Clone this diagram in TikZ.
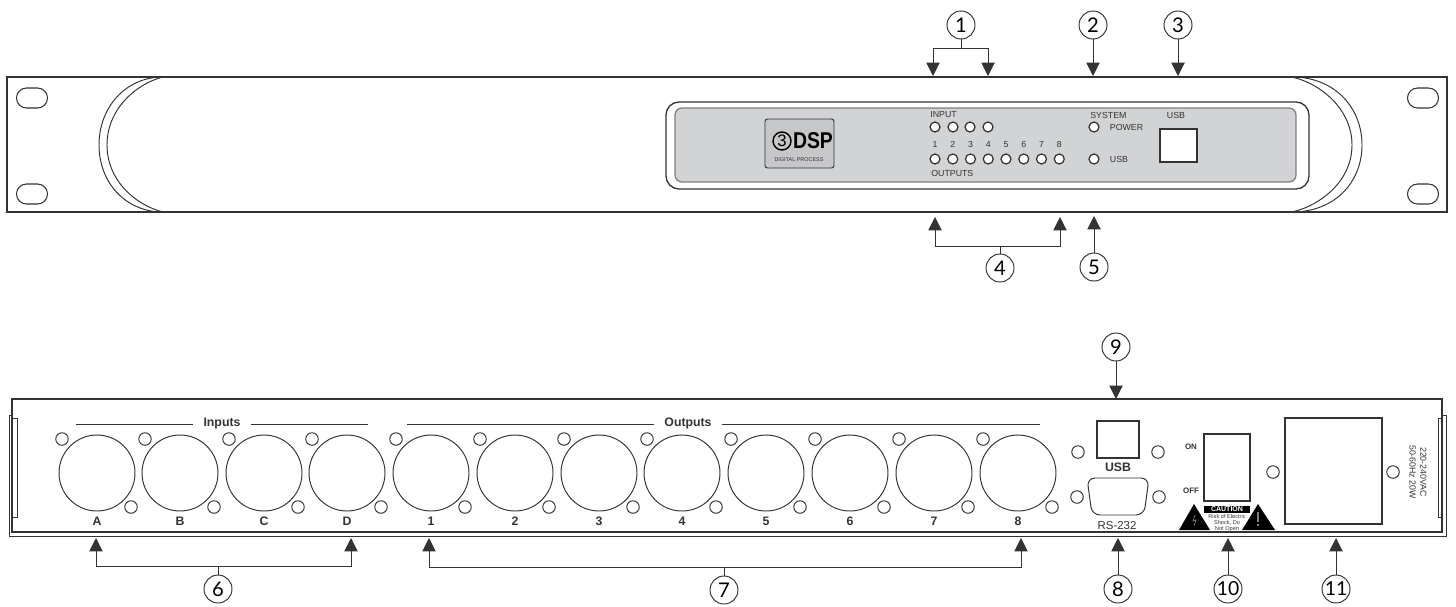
\documentclass[tikz,border=0pt]{standalone}
\usepackage{fontspec}
\setmainfont{Liberation Sans}
\newfontfamily\callfont{Lato}
\usetikzlibrary{positioning}
\usetikzlibrary{arrows.meta}
\definecolor{plategray}{HTML}{D2D3D5}
\definecolor{logogray}{HTML}{C6C7C9}
\definecolor{inkgray}{HTML}{333333}
\tikzset{frame/.style={draw=inkgray,line width=0.75pt}}
\tikzset{thin line/.style={draw=inkgray,line width=0.55pt}}
\tikzset{callout/.style={circle,thin line,fill=white,minimum size=0.56cm,inner sep=0pt,font=\callfont\fontsize{11.5}{12}\selectfont}}
\tikzset{pointer/.style={thin line,-{Triangle[width=7.6pt,length=7.6pt]}}}
\tikzset{led/.style={circle,draw=inkgray,line width=0.7pt,fill=white,minimum size=0.2cm,inner sep=0pt}}
\tikzset{hole/.style={circle,thin line,minimum size=0.25cm,inner sep=0pt}}
\tikzset{xlr/.style={circle,thin line,minimum size=1.52cm,inner sep=0pt}}
\tikzset{slot/.style={draw=inkgray,line width=0.6pt,rounded corners=0.2cm,minimum width=0.62cm,minimum height=0.4cm}}
\tikzset{tiny/.style={font=\fontsize{5}{6}\selectfont,text=inkgray,inner sep=0pt}}
\tikzset{rear/.style={font=\bfseries\fontsize{7}{8}\selectfont,text=inkgray,inner sep=0pt,text height=5pt,text depth=0pt}}
\begin{document}
\begin{tikzpicture}[x=0.02cm,y=-0.02cm]
\useasboundingbox (0,0) rectangle (1456,606);
% front panel
\draw[frame] (7,77) rectangle (1447,212);
\node[slot] (slotA) at (32,98) {};
\node[slot] (slotB) at (32,194) {};
\node[slot] (slotC) at (1423,98) {};
\node[slot] (slotD) at (1423,194) {};
\draw[thin line] (163,77) .. controls (125,77) and (99,108) .. (99,145) .. controls (99,182) and (125,212) .. (163,212);
\draw[thin line] (163,77) .. controls (135,84) and (107,110) .. (107,145) .. controls (107,180) and (135,205) .. (163,212);
\draw[thin line] (1292,77) .. controls (1335,77) and (1362,108) .. (1362,145) .. controls (1362,182) and (1335,212) .. (1292,212);
\draw[thin line] (1292,77) .. controls (1322,84) and (1352,110) .. (1352,145) .. controls (1352,180) and (1322,205) .. (1292,212);
% faceplate
\draw[frame,rounded corners=0.26cm] (666,102) rectangle (1309,189);
\draw[frame,draw=gray,fill=plategray,rounded corners=0.14cm] (675,108) rectangle (1296,182);
\draw[thin line,fill=logogray,rounded corners=0.05cm] (765,119) rectangle (834,168);
\node[circle,draw=black,line width=0.8pt,minimum size=0.36cm,inner sep=0pt,font=\fontsize{9.5}{9.5}\selectfont] (logoA) at (782,141) {3};
\node[right=0.02cm of logoA,inner sep=0pt,xscale=0.85,font=\bfseries\fontsize{13}{13}\selectfont] (logoB) {DSP};
\node[tiny,font=\fontsize{3.1}{4}\selectfont] (logoC) at (799,160) {DIGITAL PROCESS};
\node[tiny,anchor=west] (inlab) at (930,115) {INPUT};
\foreach \x [count=\i] in {935,953,970,988} {
\node[led] (in\i) at (\x,127) {};
}
\foreach \i in {1,...,8} {
\node[led] (out\i) at ({935+(\i-1)*17.75},159) {};
\node[tiny,text height=3.6pt,text depth=0pt] (num\i) at ({935+(\i-1)*17.75},144) {\i};
}
\node[tiny,anchor=west] (outlab) at (931,173) {OUTPUTS};
\node[tiny,anchor=west] (syslab) at (1090,115) {SYSTEM};
\node[led] (power) at (1094,127) {};
\node[tiny,right=0.2cm of power] (powerlab) {POWER};
\node[led] (usbled) at (1094,159) {};
\node[tiny,right=0.2cm of usbled] (usbledlab) {USB};
\node[tiny] (usblab) at (1176,115) {USB};
\draw[frame,fill=white] (1160,129) rectangle (1197,162);
% callouts on the front
\node[callout] (c1) at (961,25) {1};
\node[callout] (c2) at (1093,25) {2};
\node[callout] (c3) at (1178,25) {3};
\node[callout] (c4) at (1000,268) {4};
\node[callout] (c5) at (1094,267) {5};
\coordinate (b1) at (961,48);
\coordinate (t1a) at (933,76);
\coordinate (t1b) at (988,76);
\coordinate (t2) at (1093,76);
\coordinate (t3) at (1178,76);
\coordinate (b4) at (1000,246);
\coordinate (t4a) at (935,217);
\coordinate (t4b) at (1060,217);
\coordinate (t5) at (1094,216);
\draw[thin line] (c1) -- (b1);
\draw[pointer] (b1) -| (t1a);
\draw[pointer] (b1) -| (t1b);
\draw[pointer] (c2) -- (t2);
\draw[pointer] (c3) -- (t3);
\draw[thin line] (c4) -- (b4);
\draw[pointer] (b4) -| (t4a);
\draw[pointer] (b4) -| (t4b);
\draw[pointer] (c5) -- (t5);
% rear panel
\draw[frame] (12,399) -- (1442,399) -- (1442,532) -- (12,532) -- cycle;
\draw[thin line] (12,415) -- (9,415) -- (9,536) -- (1446,536) -- (1446,415) -- (1442,415);
\draw[thin line] (12,418) -- (17,418) -- (17,517) -- (12,517);
\draw[thin line] (1442,418) -- (1438,418) -- (1438,517) -- (1442,517);
\node[rear] (inputs) at (222,422) {Inputs};
\node[rear] (outputs) at (688,422) {Outputs};
\coordinate (ia) at (76,424);
\coordinate (ib) at (368,424);
\coordinate (oa) at (407,424);
\coordinate (ob) at (1040,424);
\draw[thin line] (ia) -- ([xshift=-0.2cm]inputs.west |- ia);
\draw[thin line] ([xshift=0.2cm]inputs.east |- ib) -- (ib);
\draw[thin line] (oa) -- ([xshift=-0.2cm]outputs.west |- oa);
\draw[thin line] ([xshift=0.2cm]outputs.east |- ob) -- (ob);
\foreach \x/\l [count=\i] in {97/A,180/B,264/C,347/D,431/1,515/2,599/3,682/4,766/5,850/6,934/7,1018/8} {
\node[xlr] (xlr\i) at (\x,473) {};
\node[hole] (ha\i) at ({\x-35},439) {};
\node[hole] (hb\i) at ({\x+34},507) {};
\node[rear] (lab\i) at (\x,521) {\l};
}
\node[hole] (h1) at (1078,452) {};
\node[hole] (h2) at (1158,452) {};
\node[hole] (h3) at (1077,497) {};
\node[hole] (h4) at (1159,497) {};
\draw[frame] (1097,421) rectangle (1139,458);
\node[rear] (usbtxt) at (1118,467) {USB};
\draw[thin line,rounded corners=0.16cm] (1087,478) -- (1149,478) -- (1144,515) -- (1092,515) -- cycle;
\node[rear,font=\fontsize{6.5}{7}\selectfont] (rstxt) at (1117,525) {RS-232};
% switch and caution
\draw[frame] (1204,434) rectangle (1250,501);
\node[tiny,font=\bfseries\fontsize{4.5}{5}\selectfont] (ontxt) at (1191,447) {ON};
\node[tiny,font=\bfseries\fontsize{4.5}{5}\selectfont] (offtxt) at (1191,491) {OFF};
\node[fill=black,text=white,minimum width=0.92cm,minimum height=0.14cm,inner sep=0pt,font=\bfseries\fontsize{4}{4}\selectfont] (caution) at (1227,509.5) {CAUTION};
\node[tiny,font=\fontsize{3.2}{3.2}\selectfont,align=center,below=0.02cm of caution] (risk) {Risk of Electric\\Shock, Do\\Not Open};
\fill[black] (1194,504) -- (1210,530) -- (1179,530) -- cycle;
\fill[black] (1258,504) -- (1275,530) -- (1242,530) -- cycle;
\draw[gray,line width=0.4pt] (1195,515) -- (1193,521) -- (1196,520) -- (1194,526);
\draw[gray,line width=0.6pt] (1258,512) -- (1258,522) (1258,524) -- (1258,526);
% power inlet
\draw[frame] (1285,418) rectangle (1382,524);
\node[hole] (h5) at (1273,472) {};
\node[hole] (h6) at (1393,472) {};
\node[tiny,font=\fontsize{5}{6}\selectfont,rotate=-90,align=center] (mains) at (1418,472) {220-240VAC\\50-60Hz 20W};
% callouts on the rear
\node[callout] (c6) at (218,589) {6};
\node[callout] (c7) at (724,590) {7};
\node[callout] (c8) at (1118,589) {8};
\node[callout] (c9) at (1116,347) {9};
\node[callout,font=\callfont\fontsize{11}{12}\selectfont] (c10) at (1228,589) {10};
\node[callout,font=\callfont\fontsize{11}{12}\selectfont] (c11) at (1336,589) {11};
\coordinate (b6) at (218,566);
\coordinate (t6a) at (96,538);
\coordinate (t6b) at (351,538);
\coordinate (b7) at (724,567);
\coordinate (t7a) at (429,538);
\coordinate (t7b) at (1021,538);
\coordinate (t8) at (1118,538);
\coordinate (t9) at (1116,399);
\coordinate (t10) at (1228,538);
\coordinate (t11) at (1336,538);
\draw[thin line] (c6) -- (b6);
\draw[pointer] (b6) -| (t6a);
\draw[pointer] (b6) -| (t6b);
\draw[thin line] (c7) -- (b7);
\draw[pointer] (b7) -| (t7a);
\draw[pointer] (b7) -| (t7b);
\draw[pointer] (c8) -- (t8);
\draw[pointer] (c9) -- (t9);
\draw[pointer] (c10) -- (t10);
\draw[pointer] (c11) -- (t11);
\end{tikzpicture}
\end{document}
